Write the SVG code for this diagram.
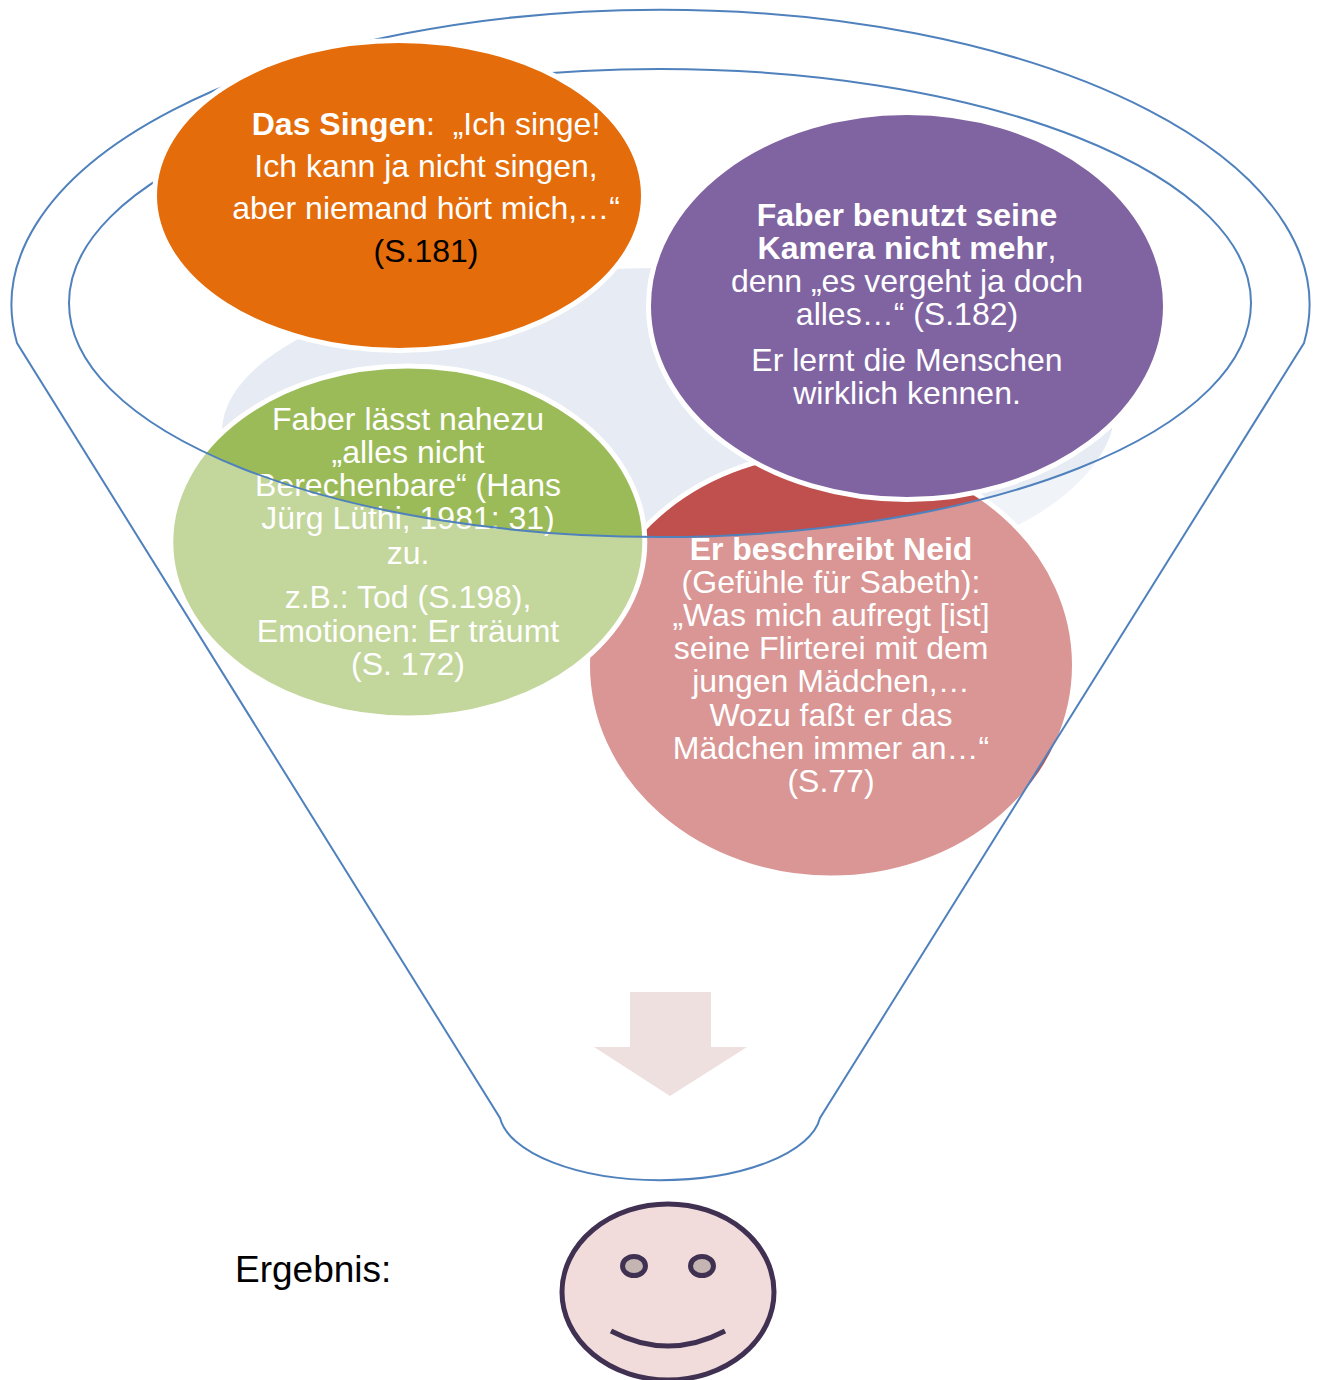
<svg xmlns="http://www.w3.org/2000/svg" width="1318" height="1380" viewBox="0 0 1318 1380">
<style>
text{font-family:"Liberation Sans",Arial,sans-serif;font-size:32px;fill:#fff;text-anchor:middle}
.b{font-weight:700}
.k{fill:#000}
.bub{stroke:#fff;stroke-width:5}
.line{fill:none;stroke:#4f81bd;stroke-width:2}
.face{stroke:#403152;stroke-width:5}
</style>
<rect width="1318" height="1380" fill="#fff"/>
<g id="swirl"><path d="M222 432C222 340 420 268 660 268C900 268 1112 330 1112 430C1100 470 1060 505 1012 528L700 560L300 500Z" fill="#e6ebf4"/></g>
<g id="node-red">
<ellipse class="bub" cx="831" cy="665" rx="243.500" ry="213" fill="#c0504d"/>
<text x="831" y="560" class="b">Er beschreibt Neid</text><text x="831" y="593">(Gefühle für Sabeth):</text><text x="831" y="626">„Was mich aufregt [ist]</text><text x="831" y="659">seine Flirterei mit dem</text><text x="831" y="692">jungen Mädchen,…</text><text x="831" y="726">Wozu faßt er das</text><text x="831" y="759">Mädchen immer an…“</text><text x="831" y="792">(S.77)</text>
</g>
<g id="node-green">
<ellipse class="bub" cx="407.800" cy="542" rx="237" ry="176" fill="#9bbb59"/>
<text x="408" y="430">Faber lässt nahezu</text><text x="408" y="463">„alles nicht</text><text x="408" y="496">Berechenbare“ (Hans</text><text x="408" y="529">Jürg Lüthi, 1981: 31)</text><text x="408" y="564">zu.</text><text x="408" y="608">z.B.: Tod (S.198),</text><text x="408" y="642">Emotionen: Er träumt</text><text x="408" y="675">(S. 172)</text>
</g>
<g id="connectors">
<path fill="#fff" fill-opacity=".4" fill-rule="evenodd" d="M17 343A649 295 0 1 1 1304 343L820 1118A161 70 0 0 1 500 1118ZM69 303A591 234 0 1 0 1251 303A591 234 0 1 0 69 303Z"/>
<path class="line" d="M17 343A649 295 0 1 1 1304 343L820 1118A161 70 0 0 1 500 1118Z"/>
<ellipse class="line" cx="660" cy="303" rx="591" ry="234"/>
<path d="M630 992H711V1047H747L670 1096L594 1047H630Z" fill="#efe0e0"/>
</g>
<g id="node-orange">
<ellipse class="bub" cx="399" cy="195.500" rx="244.500" ry="155" fill="#e46c0a"/>
<text x="426" y="135"><tspan class="b">Das Singen</tspan>:&#160; „Ich singe!</text><text x="426" y="177">Ich kann ja nicht singen,</text><text x="426" y="219">aber niemand hört mich,…“</text><text x="426" y="262" class="k">(S.181)</text>
</g>
<g id="node-purple">
<ellipse class="bub" cx="907" cy="306" rx="258.500" ry="193.500" fill="#8064a2"/>
<text x="907" y="226" class="b">Faber benutzt seine</text><text x="907" y="259"><tspan class="b">Kamera nicht mehr</tspan>,</text><text x="907" y="292">denn „es vergeht ja doch</text><text x="907" y="325">alles…“ (S.182)</text><text x="907" y="371">Er lernt die Menschen</text><text x="907" y="404">wirklich kennen.</text>
</g>
<g id="label"><text x="235" y="1282" class="k" style="text-anchor:start;font-size:37px">Ergebnis:</text></g>
<g id="smiley">
<ellipse class="face" cx="668" cy="1292" rx="106" ry="88" fill="#f2dcdb"/>
<ellipse class="face" cx="634" cy="1266" rx="11.500" ry="9.500" fill="#c4b5b2"/>
<ellipse class="face" cx="702" cy="1266" rx="11.500" ry="9.500" fill="#c4b5b2"/>
<path class="face" fill="none" d="M611 1331Q668 1361 725 1331"/>
</g>
</svg>
